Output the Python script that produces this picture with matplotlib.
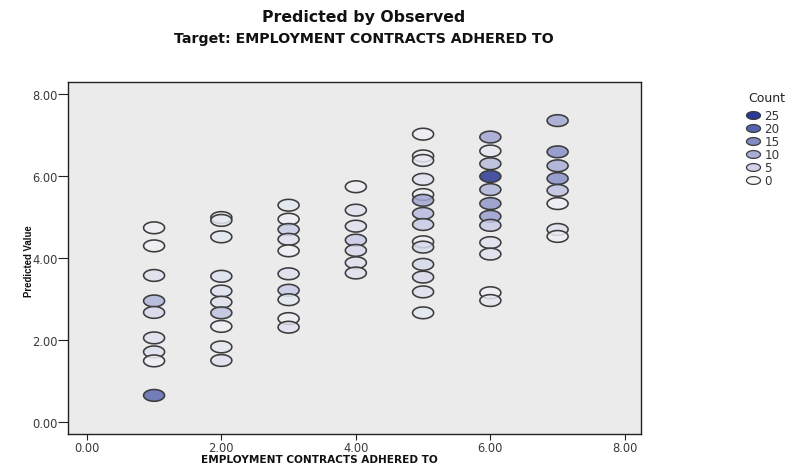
import numpy as np
import matplotlib
matplotlib.use("Agg")
import matplotlib.pyplot as plt
from matplotlib.path import Path
from matplotlib.colors import LinearSegmentedColormap, Normalize
from matplotlib.lines import Line2D

# Predicted values and case counts for each observed category
obs_levels = [1, 2, 3, 4, 5, 6, 7]

pred_1 = [4.73, 4.29, 3.57, 2.95, 2.67, 2.05, 1.71, 1.49, 0.65]
count_1 = [1, 1, 3, 9, 4, 3, 3, 1, 19]

pred_2 = [4.98, 4.91, 4.51, 3.55, 3.19, 2.92, 2.66, 2.33, 1.83, 1.50]
count_2 = [2, 2, 2, 3, 3, 3, 7, 1, 2, 3]

pred_3 = [5.28, 4.94, 4.69, 4.45, 4.17, 3.61, 3.21, 2.98, 2.52, 2.31]
count_3 = [2, 1, 6, 3, 1, 3, 6, 2, 1, 3]

pred_4 = [5.73, 5.16, 4.77, 4.43, 4.18, 3.88, 3.63]
count_4 = [1, 3, 3, 6, 4, 3, 3]

pred_5 = [7.01, 6.48, 6.37, 5.91, 5.54, 5.40, 5.08, 4.81, 4.39, 4.26, 3.84, 3.53, 3.17, 2.66]
count_5 = [1, 1, 2, 3, 1, 11, 8, 6, 1, 4, 4, 4, 3, 2]

pred_6 = [6.94, 6.60, 6.29, 5.98, 5.66, 5.32, 5.01, 4.79, 4.37, 4.09, 3.15, 2.96]
count_6 = [11, 2, 8, 25, 9, 13, 12, 6, 3, 3, 1, 2]

pred_7 = [7.34, 6.58, 6.24, 5.93, 5.64, 5.32, 4.69, 4.52]
count_7 = [11, 14, 10, 14, 7, 1, 3, 1]

legend_counts = [25, 20, 15, 10, 5, 0]
axis_ticks = [0, 2, 4, 6, 8]

pred_cols = [pred_1, pred_2, pred_3, pred_4, pred_5, pred_6, pred_7]
count_cols = [count_1, count_2, count_3, count_4, count_5, count_6, count_7]

xs, ys, cs = [], [], []
for lvl, p, c in zip(obs_levels, pred_cols, count_cols):
    xs.extend([lvl] * len(p))
    ys.extend(p)
    cs.extend(c)

# Flattened ellipse marker
t = np.linspace(0, 2 * np.pi, 73)
ellipse = Path(np.column_stack([np.cos(t), 0.56 * np.sin(t)]), closed=True)

cmap = LinearSegmentedColormap.from_list(
    "count", [(0.0, "#f5f5f7"), (0.2, "#d0d3ea"), (0.4, "#a9aed6"),
              (0.6, "#838bc3"), (0.8, "#5562ad"), (1.0, "#2b3a96")])
norm = Normalize(vmin=0, vmax=25)

face = cmap(norm(np.array(cs)))
face[:, 3] = 0.85

fig = plt.figure(figsize=(7.91, 4.64), dpi=100)
ax = fig.add_axes([68 / 791, 1 - 435 / 464, (641 - 68) / 791, (435 - 83) / 464])
ax.set_facecolor("#ebebeb")

ax.scatter(xs, ys, s=(21 * 0.72) ** 2, marker=ellipse, facecolors=face,
           edgecolors="#3c3c3c", linewidths=1.15, zorder=3)

ax.set_xlim(-0.28, 8.24)
ax.set_ylim(-0.29, 8.28)
ax.set_xticks(axis_ticks)
ax.set_yticks(axis_ticks)
ax.set_xticklabels([f"{v:.2f}" for v in axis_ticks])
ax.set_yticklabels([f"{v:.2f}" for v in axis_ticks])
ax.tick_params(direction="out", width=0.8, color="#222222",
               labelsize=8.3, labelcolor="#3a3a3a")
ax.tick_params(axis="x", length=4, pad=1)
ax.tick_params(axis="y", length=7, pad=0.5)
for sp in ax.spines.values():
    sp.set_color("#222222")
    sp.set_linewidth(1.0)

fig.text(319 / 791, 1 - 463 / 464, "EMPLOYMENT CONTRACTS ADHERED TO",
         ha="center", va="baseline", fontsize=7.6, fontweight="bold",
         family="DejaVu Sans", color="#111111")
fig.text(29 / 791, 1 - 261 / 464, "Predicted Value", rotation=90,
         ha="center", va="center", fontsize=6.9, fontweight="bold",
         family="Liberation Sans", color="#111111")

fig.text(364 / 791, 1 - 22 / 464, "Predicted by Observed", ha="center",
         va="baseline", fontsize=11.3, fontweight="bold",
         family="DejaVu Sans", color="#111111")
fig.text(364 / 791, 1 - 43 / 464, "Target: EMPLOYMENT CONTRACTS ADHERED TO",
         ha="center", va="baseline", fontsize=10.2, fontweight="bold",
         family="DejaVu Sans", color="#111111")

# Count scale key
fig.text(767 / 791, 1 - 99 / 464, "Count", ha="center", va="center",
         fontsize=9, family="DejaVu Sans", color="#222222")
handles = [Line2D([], [], linestyle="none", marker=ellipse, markersize=14 * 0.72,
                  markerfacecolor=cmap(norm(v)), markeredgecolor="#3c3c3c",
                  markeredgewidth=0.9) for v in legend_counts]
leg = fig.legend(handles, [str(v) for v in legend_counts],
                 loc="upper left", bbox_to_anchor=(746 / 791, 1 - 109 / 464),
                 frameon=False, prop={"family": "DejaVu Sans", "size": 8.6},
                 handlelength=1.0, handletextpad=0.45, labelspacing=0.0,
                 borderpad=0.1, borderaxespad=0.0)
for txt in leg.get_texts():
    txt.set_color("#333333")

fig.savefig("out.png", dpi=100)
